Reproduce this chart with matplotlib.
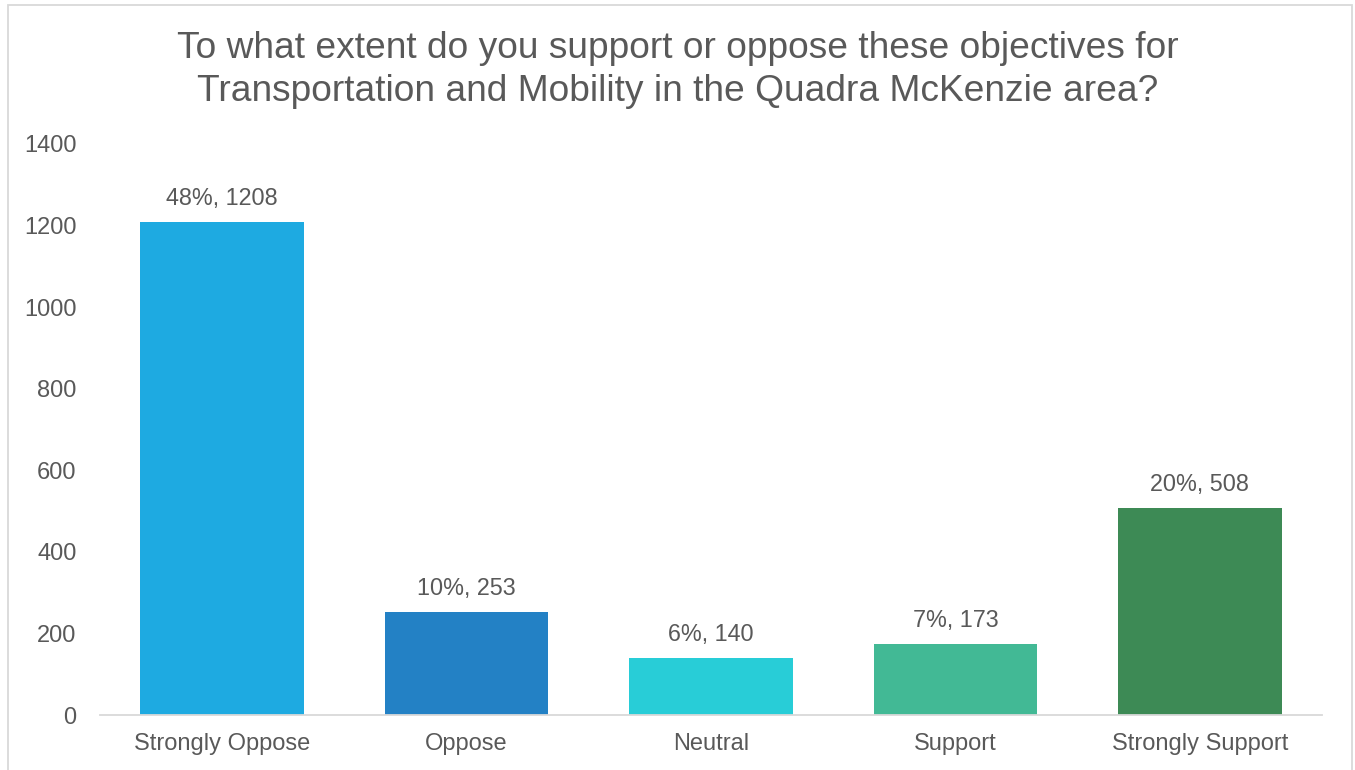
import matplotlib.pyplot as plt
from matplotlib.patches import Rectangle

plt.rcParams['font.family'] = ['Liberation Sans', 'DejaVu Sans']

categories = ['Strongly Oppose', 'Oppose', 'Neutral', 'Support', 'Strongly Support']
counts = [1208, 253, 140, 173, 508]
percents = ['48%', '10%', '6%', '7%', '20%']
colors = ['#1EAAE1', '#2381C5', '#28CDD7', '#42B995', '#3D8A55']
yticks = [0, 200, 400, 600, 800, 1000, 1200, 1400]

text_color = '#595959'

fig = plt.figure(figsize=(13.55, 7.70), dpi=100)
ax = fig.add_axes([100 / 1355, 55 / 770, 1222 / 1355, 571 / 770])

x = range(len(categories))
bars = ax.bar(x, counts, width=0.67, color=colors)

# data labels "pct, count"
for b, p, c in zip(bars, percents, counts):
    ax.annotate(f'{p}, {c}', (b.get_x() + b.get_width() / 2, b.get_height()),
                xytext=(0, 17), textcoords='offset points', ha='center', va='center',
                fontsize=16.8, color=text_color)

ax.set_xlim(-0.5, len(categories) - 0.5)
ax.set_ylim(0, 1400)
ax.set_yticks(yticks)
ax.set_xticks(list(x))
ax.set_xticklabels(categories)
ax.tick_params(axis='both', length=0, labelsize=17, labelcolor=text_color)
ax.tick_params(axis='x', pad=13)
ax.tick_params(axis='y', pad=17)

for s in ['top', 'right', 'left']:
    ax.spines[s].set_visible(False)
ax.spines['bottom'].set_color('#D9D9D9')
ax.spines['bottom'].set_linewidth(1.3)

fig.text(0.5, 1 - 70 / 770, 'To what extent do you support or oppose these objectives for\n'
         'Transportation and Mobility in the Quadra McKenzie area?',
         ha='center', va='center', fontsize=26.7, color=text_color, linespacing=1.28)

# chart area border
fig.patches.append(Rectangle((8 / 1355, -0.01), 1344 / 1355, 1 - 5 / 770 + 0.01,
                             transform=fig.transFigure, fill=False,
                             edgecolor='#D9D9D9', linewidth=1.3))

fig.savefig('out.png', dpi=100)
